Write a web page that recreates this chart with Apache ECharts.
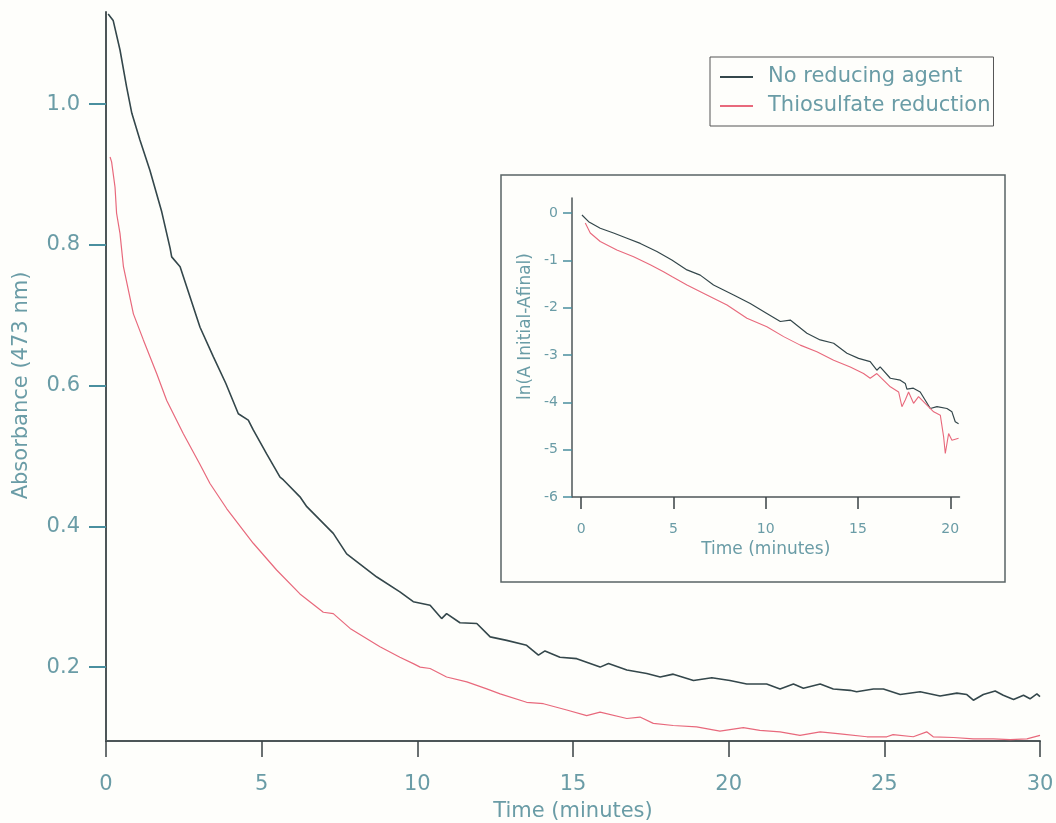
<!DOCTYPE html>
<html>
<head>
<meta charset="utf-8">
<script src="https://cdn.jsdelivr.net/npm/echarts@6/dist/echarts.min.js"></script>
<style>
html,body{margin:0;padding:0;background:#fefefb;}
#chart{width:1056px;height:823px;}
</style>
</head>
<body>
<div id="chart"></div>
<script>
// ---- data ----
const seriesNames = ['No reducing agent', 'Thiosulfate reduction'];

// main plot: time (minutes) and absorbance (473 nm)
const noAgentT = [0.07,0.23,0.45,0.66,0.83,1.09,1.41,1.79,2.06,2.11,2.38,3.02,3.45,3.85,4.25,4.57,4.73,5.16,5.59,5.70,6.23,6.45,7.30,7.73,8.70,9.44,9.87,10.41,10.78,10.94,11.37,11.91,12.34,12.87,13.51,13.89,14.10,14.58,15.12,15.87,16.14,16.73,17.37,17.80,18.22,18.87,19.46,20.04,20.58,21.22,21.65,22.08,22.40,22.94,23.36,23.90,24.11,24.65,24.97,25.51,26.15,26.79,27.33,27.65,27.86,28.18,28.56,28.82,29.15,29.47,29.68,29.90,30.00];
const noAgentA = [1.128,1.119,1.077,1.025,0.987,0.949,0.906,0.847,0.795,0.783,0.769,0.683,0.641,0.603,0.560,0.551,0.537,0.503,0.470,0.466,0.442,0.428,0.390,0.361,0.328,0.307,0.293,0.288,0.269,0.276,0.263,0.262,0.243,0.238,0.231,0.217,0.223,0.214,0.212,0.200,0.205,0.196,0.191,0.186,0.190,0.181,0.185,0.181,0.176,0.176,0.169,0.176,0.170,0.176,0.169,0.167,0.165,0.169,0.169,0.161,0.165,0.159,0.163,0.161,0.153,0.161,0.166,0.160,0.154,0.160,0.155,0.162,0.158];

const thioT = [0.13,0.18,0.29,0.34,0.45,0.56,0.88,1.20,1.63,1.95,2.48,3.02,3.34,3.88,4.52,4.73,5.48,6.23,6.98,7.30,7.84,8.80,9.44,9.87,10.09,10.41,10.94,11.59,12.23,12.66,13.51,14.05,14.80,15.44,15.87,16.73,17.15,17.58,18.22,18.97,19.72,20.47,21.00,21.65,22.29,22.94,23.58,24.44,25.08,25.28,25.93,26.36,26.57,27.22,27.86,28.50,29.04,29.58,30.00];
const thioA = [0.925,0.918,0.882,0.845,0.816,0.769,0.702,0.665,0.617,0.579,0.532,0.488,0.461,0.425,0.388,0.376,0.338,0.304,0.278,0.276,0.255,0.229,0.214,0.205,0.200,0.198,0.186,0.179,0.169,0.162,0.150,0.148,0.139,0.131,0.136,0.127,0.129,0.120,0.117,0.115,0.109,0.114,0.110,0.108,0.103,0.108,0.105,0.101,0.101,0.104,0.101,0.108,0.101,0.100,0.098,0.098,0.097,0.098,0.103];

// inset: ln(A initial - A final) vs time
const insetNoAgentT = [0.04,0.40,1.03,1.75,2.48,3.20,4.10,4.91,5.73,6.45,7.17,8.26,9.16,10.06,10.79,11.33,12.23,12.95,13.68,14.40,15.03,15.66,16.02,16.20,16.75,17.29,17.56,17.65,18.00,18.37,18.92,19.28,19.82,20.09,20.27,20.45];
const insetNoAgentY = [-0.04,-0.18,-0.32,-0.42,-0.53,-0.64,-0.81,-0.99,-1.20,-1.31,-1.52,-1.73,-1.91,-2.12,-2.29,-2.26,-2.54,-2.68,-2.75,-2.96,-3.07,-3.14,-3.32,-3.25,-3.49,-3.53,-3.60,-3.72,-3.70,-3.78,-4.13,-4.09,-4.13,-4.20,-4.41,-4.45];

const insetThioT = [0.22,0.49,1.03,1.93,2.84,3.74,4.46,4.91,5.73,6.81,7.90,8.98,10.06,10.97,11.87,12.77,13.68,14.58,15.30,15.66,16.02,16.75,17.20,17.38,17.56,17.74,18.01,18.28,18.64,19.10,19.46,19.64,19.73,19.91,20.09,20.45];
const insetThioY = [-0.21,-0.42,-0.60,-0.78,-0.92,-1.09,-1.24,-1.34,-1.52,-1.73,-1.94,-2.22,-2.40,-2.61,-2.79,-2.93,-3.11,-3.25,-3.39,-3.49,-3.39,-3.67,-3.78,-4.09,-3.95,-3.78,-4.02,-3.88,-4.02,-4.20,-4.27,-4.73,-5.08,-4.66,-4.80,-4.76];

// tick labels
const mainXTicks = [0,5,10,15,20,25,30];
const mainYTicks = [0.2,0.4,0.6,0.8,1.0];
const insetXTicks = [0,5,10,15,20];
const insetYTicks = [-6,-5,-4,-3,-2,-1,0];

// ---- styling ----
const TEXT = '#6a9ca6';
const AXIS = '#4d5658';
const TICK = '#4a8f9f';
const DARK = '#34474b';
const RED = '#e8697c';
const FONT = 'DejaVu Sans';

const pairs = (xs, ys) => xs.map((x, i) => [x, ys[i]]);

const chart = echarts.init(document.getElementById('chart'), null, {renderer: 'canvas'});
chart.setOption({
  animation: false,
  backgroundColor: '#fefefb',
  textStyle: {fontFamily: FONT},
  legend: {
    left: 710, top: 57,
    orient: 'vertical',
    data: seriesNames,
    icon: 'rect',
    itemWidth: 33, itemHeight: 2,
    itemGap: 5,
    padding: [8, 3, 8, 10],
    borderColor: '#555',
    borderWidth: 1,
    backgroundColor: '#fefefb',
    textStyle: {color: TEXT, fontSize: 21, fontFamily: FONT, padding: [0, 0, 0, 10], lineHeight: 24}
  },
  graphic: [{
    type: 'rect',
    shape: {x: 501, y: 175, width: 504, height: 407},
    style: {fill: 'none', stroke: '#5a6466', lineWidth: 1.5},
    z: 1
  }],
  grid: [
    {left: 106, right: 16, top: 12, bottom: 82, containLabel: false, outerBoundsMode: 'none'},
    {left: 572, right: 96.5, top: 198, bottom: 326, containLabel: false, outerBoundsMode: 'none'}
  ],
  xAxis: [{
    gridIndex: 0, type: 'value', min: 0, max: 30, interval: 5,
    name: 'Time (minutes)', nameLocation: 'middle', nameGap: 60,
    nameTextStyle: {color: TEXT, fontSize: 21, fontFamily: FONT},
    axisLine: {show: true, onZero: false, lineStyle: {color: AXIS, width: 2}},
    axisTick: {show: true, length: 16, customValues: mainXTicks, lineStyle: {color: '#3a4244', width: 1.5}},
    axisLabel: {color: TEXT, fontSize: 21, margin: 33, customValues: mainXTicks, fontFamily: FONT},
    splitLine: {show: false}
  }, {
    gridIndex: 1, type: 'value', min: -0.5, max: 20.5,
    name: 'Time (minutes)', nameLocation: 'middle', nameGap: 44,
    nameTextStyle: {color: TEXT, fontSize: 17, fontFamily: FONT},
    axisLine: {show: true, onZero: false, lineStyle: {color: AXIS, width: 1.5}},
    axisTick: {show: true, length: 12, customValues: insetXTicks, lineStyle: {color: '#3a4244', width: 1.5}},
    axisLabel: {color: TEXT, fontSize: 14, margin: 25, customValues: insetXTicks, fontFamily: FONT},
    splitLine: {show: false}
  }],
  yAxis: [{
    gridIndex: 0, type: 'value', min: 0.095, max: 1.131,
    name: 'Absorbance (473 nm)', nameLocation: 'middle', nameGap: 74,
    nameTextStyle: {color: TEXT, fontSize: 21, fontFamily: FONT, padding: [0, 18, 0, 0]},
    axisLine: {show: true, onZero: false, lineStyle: {color: AXIS, width: 2}},
    axisTick: {show: true, length: 17, customValues: mainYTicks, lineStyle: {color: TICK, width: 2}},
    axisLabel: {color: TEXT, fontSize: 21, margin: 26, customValues: mainYTicks,
      formatter: v => Number(v).toFixed(1), fontFamily: FONT},
    splitLine: {show: false}
  }, {
    gridIndex: 1, type: 'value', min: -6, max: 0.32,
    name: 'ln(A Initial-Afinal)', nameLocation: 'middle', nameGap: 38,
    nameTextStyle: {color: TEXT, fontSize: 17, fontFamily: FONT, padding: [0, 0, 0, 42]},
    axisLine: {show: true, onZero: false, lineStyle: {color: AXIS, width: 1.5}},
    axisTick: {show: true, length: 9, customValues: insetYTicks, lineStyle: {color: TICK, width: 1.5}},
    axisLabel: {color: TEXT, fontSize: 14, margin: 14, customValues: insetYTicks,
      formatter: v => String(Math.round(v)), fontFamily: FONT},
    splitLine: {show: false}
  }],
  series: [{
    name: seriesNames[0], type: 'line', xAxisIndex: 0, yAxisIndex: 0,
    data: pairs(noAgentT, noAgentA), showSymbol: false, symbol: 'none',
    lineStyle: {color: DARK, width: 1.6}, itemStyle: {color: DARK}
  }, {
    name: seriesNames[1], type: 'line', xAxisIndex: 0, yAxisIndex: 0,
    data: pairs(thioT, thioA), showSymbol: false, symbol: 'none',
    lineStyle: {color: RED, width: 1.2}, itemStyle: {color: RED}
  }, {
    name: seriesNames[0], type: 'line', xAxisIndex: 1, yAxisIndex: 1,
    data: pairs(insetNoAgentT, insetNoAgentY), showSymbol: false, symbol: 'none',
    lineStyle: {color: DARK, width: 1.2}, itemStyle: {color: DARK}
  }, {
    name: seriesNames[1], type: 'line', xAxisIndex: 1, yAxisIndex: 1,
    data: pairs(insetThioT, insetThioY), showSymbol: false, symbol: 'none',
    lineStyle: {color: RED, width: 1.1}, itemStyle: {color: RED}
  }]
});
</script>
</body>
</html>
